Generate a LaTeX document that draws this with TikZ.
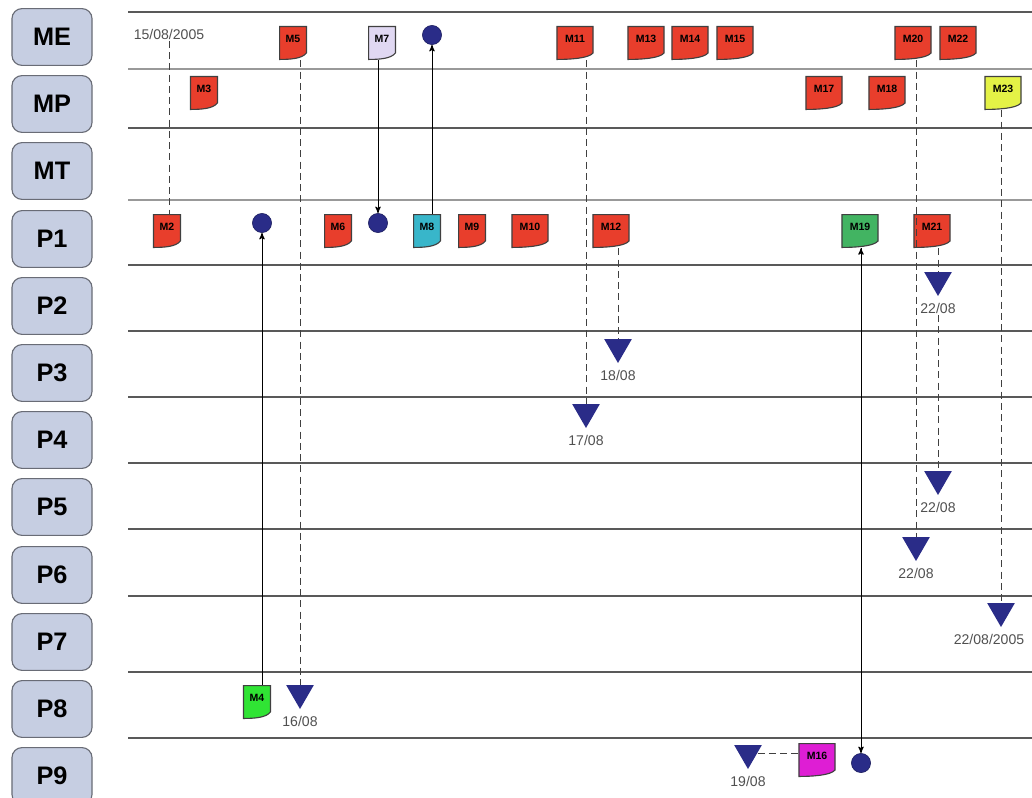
\documentclass[tikz,border=0pt]{standalone}
\usepackage{fontspec}
\setmainfont{Liberation Sans}
\usepackage{tikz}
\usetikzlibrary{arrows,shapes.geometric,positioning}

\definecolor{lanefill}{RGB}{198,206,226}
\definecolor{laneline}{RGB}{105,108,118}
\definecolor{flagred}{RGB}{232,62,44}
\definecolor{flagteal}{RGB}{56,182,202}
\definecolor{flaggreen}{RGB}{66,180,98}
\definecolor{flaglime}{RGB}{48,228,52}
\definecolor{flaglilac}{RGB}{224,216,242}
\definecolor{flagyellow}{RGB}{228,242,70}
\definecolor{flagpink}{RGB}{222,30,212}
\definecolor{marknavy}{RGB}{42,44,136}
\definecolor{dategray}{RGB}{80,80,80}

\tikzset{
	lane/.style={draw=laneline,fill=lanefill,rounded corners=0.25cm,line width=0.8pt,
		minimum width=2cm,minimum height=1.42cm,font=\fontsize{18}{20}\selectfont\bfseries},
	flag/.style={minimum width=0.7cm,minimum height=0.85cm,inner sep=0pt,
		text height=2pt,text depth=3pt,font=\fontsize{7.5}{8}\selectfont\bfseries,
		path picture={\filldraw[fill=#1,draw=black!75,line width=0.8pt]
			([shift={(0.4pt,-0.4pt)}]path picture bounding box.north west)
			-- ([shift={(-0.4pt,-0.4pt)}]path picture bounding box.north east)
			-- ([shift={(-0.4pt,5pt)}]path picture bounding box.south east)
			.. controls +(-3pt,-4pt) and +(8pt,0pt) .. ([shift={(0.4pt,0.4pt)}]path picture bounding box.south west)
			-- cycle;}},
	wide/.style={minimum width=0.93cm},
	hub/.style={circle,fill=marknavy,draw=marknavy!70!black,minimum size=0.48cm,inner sep=0pt},
	due/.style={regular polygon,regular polygon sides=3,shape border rotate=180,
		fill=marknavy,minimum size=0.8cm,inner sep=0pt},
	date/.style={text=dategray,font=\fontsize{10}{11}\selectfont,inner sep=1pt},
	rule/.style={draw=black!65,line width=0.9pt},
	strong/.style={draw=black!40,line width=2pt},
	trace/.style={draw=black!75,dash pattern=on 5pt off 3pt,line width=0.6pt},
	link/.style={->,>=stealth',draw=black,line width=0.7pt}
}

\begin{document}
\begin{tikzpicture}[x=0.025cm,y=-0.025cm]
	\useasboundingbox (0,0) rectangle (1032,797);

	% lane rules
	\draw[rule] (128,12) -- (1032,12);
	\draw[strong] (128,69) -- (1032,69);
	\draw[rule] (128,128) -- (1032,128);
	\draw[strong] (128,200) -- (1032,200);
	\draw[rule] (128,265) -- (1032,265);
	\draw[rule] (128,331) -- (1032,331);
	\draw[rule] (128,397) -- (1032,397);
	\draw[rule] (128,463) -- (1032,463);
	\draw[rule] (128,529) -- (1032,529);
	\draw[rule] (128,596) -- (1032,596);
	\draw[rule] (128,672) -- (1032,672);
	\draw[rule] (128,738) -- (1032,738);

	% lane headers
	\node[lane] (LME) at (52,37) {ME};
	\node[lane] (LMP) at (52,104) {MP};
	\node[lane] (LMT) at (52,171) {MT};
	\node[lane] (LP1) at (52,239) {P1};
	\node[lane] (LP2) at (52,306) {P2};
	\node[lane] (LP3) at (52,373) {P3};
	\node[lane] (LP4) at (52,440) {P4};
	\node[lane] (LP5) at (52,507) {P5};
	\node[lane] (LP6) at (52,575) {P6};
	\node[lane] (LP7) at (52,642) {P7};
	\node[lane] (LP8) at (52,709) {P8};
	\node[lane] (LP9) at (52,776) {P9};

	% ME
	\node[date] (T15) at (169,34) {15/08/2005};
	\node[flag=flagred] (M5) at (293,43) {M5};
	\node[flag=flaglilac] (M7) at (382,43) {M7};
	\node[hub] (C0) at (432,35) {};
	\node[flag=flagred,wide] (M11) at (575,43) {M11};
	\node[flag=flagred,wide] (M13) at (646,43) {M13};
	\node[flag=flagred,wide] (M14) at (690,43) {M14};
	\node[flag=flagred,wide] (M15) at (735,43) {M15};
	\node[flag=flagred,wide] (M20) at (913,43) {M20};
	\node[flag=flagred,wide] (M22) at (958,43) {M22};

	% MP
	\node[flag=flagred] (M3) at (204,93) {M3};
	\node[flag=flagred,wide] (M17) at (824,93) {M17};
	\node[flag=flagred,wide] (M18) at (887,93) {M18};
	\node[flag=flagyellow,wide] (M23) at (1003,93) {M23};

	% P1
	\node[flag=flagred] (M2) at (167,231) {M2};
	\node[hub] (C2) at (262,223) {};
	\node[flag=flagred] (M6) at (338,231) {M6};
	\node[hub] (C1) at (378,223) {};
	\node[flag=flagteal] (M8) at (427,231) {M8};
	\node[flag=flagred] (M9) at (472,231) {M9};
	\node[flag=flagred,wide] (M10) at (530,231) {M10};
	\node[flag=flagred,wide] (M12) at (611,231) {M12};
	\node[flag=flaggreen,wide] (M19) at (860,231) {M19};
	\node[flag=flagred,wide] (M21) at (932,231) {M21};

	% deadlines
	\node[due] (D22a) at (938,280) {};
	\node[date] (E22a) [below=3.5pt of D22a] {22/08};
	\node[due] (D18) at (618,347) {};
	\node[date] (E18) [below=3.5pt of D18] {18/08};
	\node[due] (D17) at (586,412) {};
	\node[date] (E17) [below=3.5pt of D17] {17/08};
	\node[due] (D22b) at (938,479) {};
	\node[date] (E22b) [below=3.5pt of D22b] {22/08};
	\node[due] (D22c) at (916,545) {};
	\node[date] (E22c) [below=3.5pt of D22c] {22/08};
	\node[due] (D22d) at (1001,611) {};
	\node[date] (E22d) [below=3.5pt of D22d,xshift=-0.3cm] {22/08/2005};

	% P8, P9
	\node[flag=flaglime] (M4) at (257,702) {M4};
	\node[due] (D16) at (300,693) {};
	\node[date] (E16) [below=3.5pt of D16] {16/08};
	\node[due] (D19) at (748,753) {};
	\node[date] (E19) [below=3.5pt of D19] {19/08};
	\node[flag=flagpink,wide] (M16) at (817,760) {M16};
	\node[hub] (C3) at (861,763) {};

	\path[trace]
(T15.south) edge (T15.south |- M2.north)
(D16 |- M5.south) edge (D16.north)
(D17 |- M11.south) edge (D17.north)
(D18 |- M12.south) edge (D18.north)
(D22a |- M21.south) edge (D22a.north)
(E22a.south -| D22b) edge (D22b.north)
(D22c |- M20.south) edge (D22c.north)
(D22d |- M23.south) edge (D22d.north)
(D19.east) edge (D19.east -| M16.west)
;
	\path[link]
(C1 |- M7.south) edge (C1)
(C0 |- M8.north) edge (C0)
(C2 |- M4.north) edge (C2)
(C3 |- M19.south) edge (C3)
;
\end{tikzpicture}
\end{document}
